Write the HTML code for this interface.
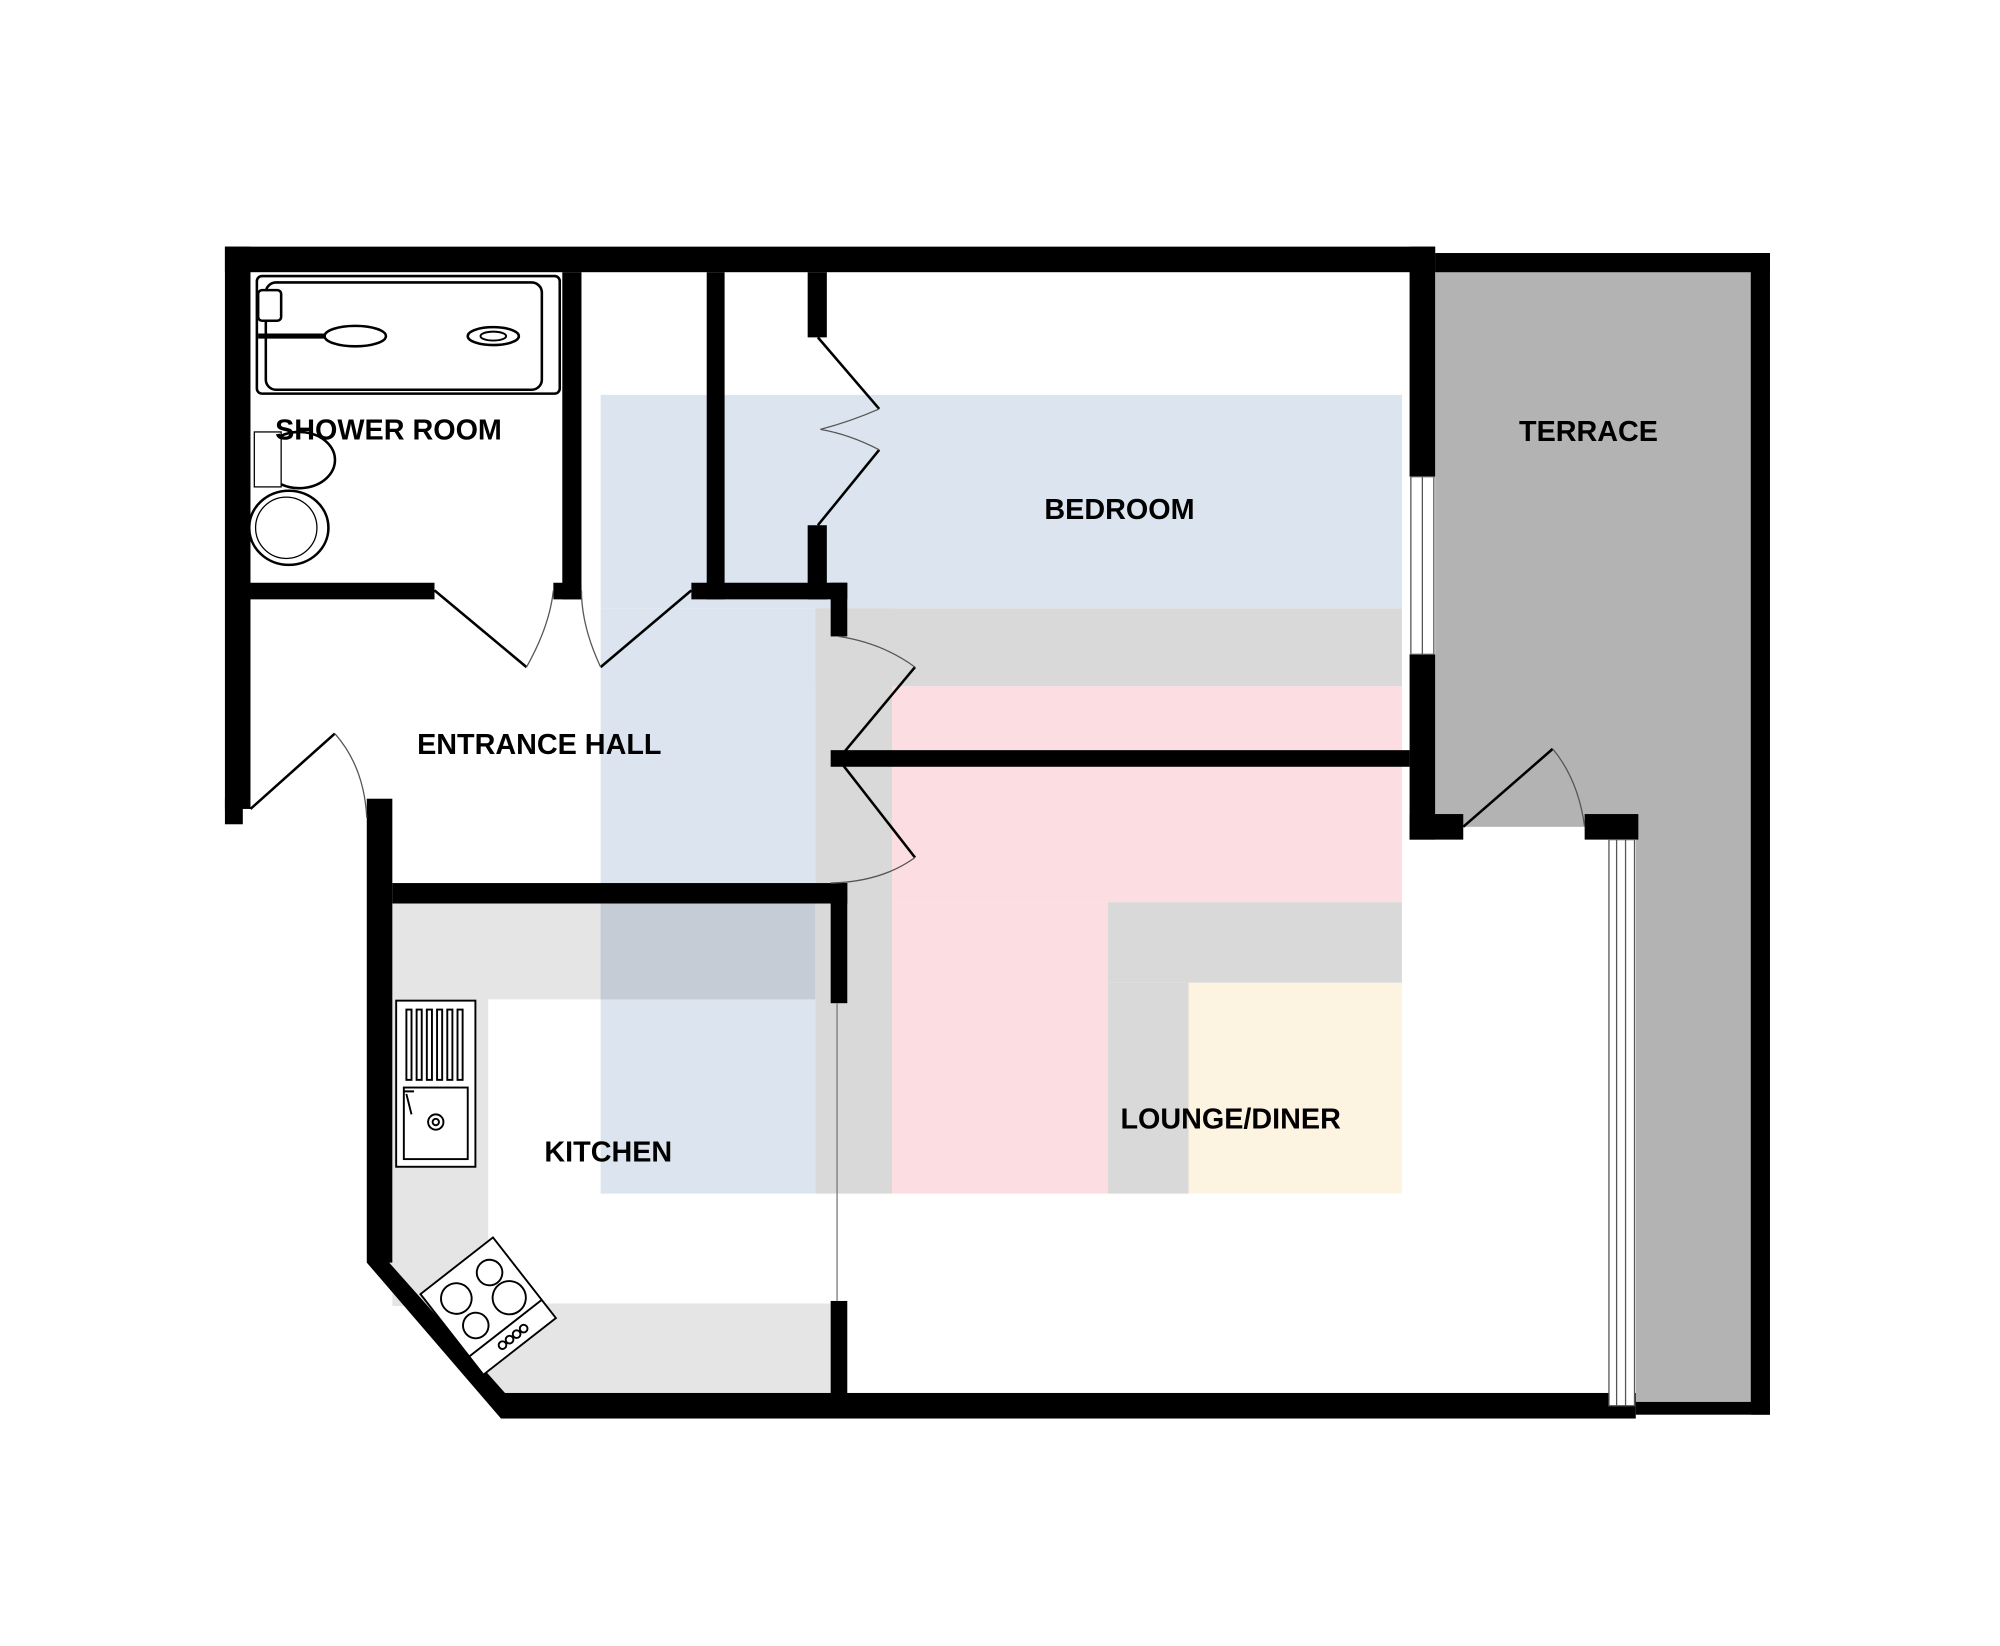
<!DOCTYPE html>
<html><head><meta charset="utf-8"><style>
html,body{margin:0;padding:0;background:#fff;width:2000px;height:1646px;overflow:hidden}
svg{display:block}
text{font-family:"Liberation Sans",Arial,sans-serif;font-weight:bold;font-size:22.5px;fill:#000;text-anchor:middle;dominant-baseline:middle}
</style></head><body>
<svg width="2000" height="1646" viewBox="0 0 1565 1288" xmlns="http://www.w3.org/2000/svg">
<!-- fills -->
<rect x="1123" y="210" width="250" height="437" fill="#b3b3b3"/>
<rect x="1280" y="640" width="93" height="460" fill="#b3b3b3"/>
<rect x="307" y="707" width="343" height="75" fill="#e5e5e5"/>
<rect x="307" y="707" width="75" height="315" fill="#e5e5e5"/>
<rect x="382" y="1020" width="268" height="72" fill="#e5e5e5"/>
<polygon points="307,985 382,985 382,1030 420,1092 395,1092 300,990" fill="#e5e5e5"/>
<rect x="470" y="309" width="627" height="167" fill="#dce5ef"/>
<rect x="470" y="476" width="168" height="458" fill="#dce5ef"/>
<rect x="470" y="707" width="168" height="75" fill="#c5ccd6"/>
<rect x="638" y="476" width="459" height="61" fill="#d9d9d9"/>
<rect x="638" y="476" width="60" height="458" fill="#d9d9d9"/>
<rect x="698" y="537" width="399" height="169" fill="#fcdde2"/>
<rect x="698" y="706" width="169" height="228" fill="#fcdde2"/>
<rect x="867" y="706" width="230" height="63" fill="#d9d9d9"/>
<rect x="867" y="769" width="63" height="165" fill="#d9d9d9"/>
<rect x="930" y="769" width="167" height="165" fill="#fdf3e1"/>
<!-- walls -->
<g fill="#000">
<rect x="176" y="193" width="947" height="20"/>
<rect x="176" y="193" width="20" height="440"/>
<rect x="176" y="625" width="14" height="20"/>
<rect x="196" y="456" width="144" height="13"/>
<rect x="440" y="213" width="15" height="256"/>
<rect x="433" y="456" width="22" height="13"/>
<rect x="553" y="213" width="14" height="256"/>
<rect x="541" y="456" width="122" height="13"/>
<rect x="632" y="213" width="15" height="51"/>
<rect x="632" y="411" width="15" height="58"/>
<rect x="650" y="456" width="13" height="42"/>
<rect x="650" y="587" width="453" height="13"/>
<rect x="1103" y="193" width="20" height="180"/>
<rect x="1103" y="512" width="20" height="145"/>
<rect x="1103" y="637" width="42" height="20"/>
<rect x="1123" y="198" width="262" height="15"/>
<rect x="1370" y="198" width="15" height="909"/>
<rect x="1240" y="637" width="42" height="20"/>
<rect x="1280" y="1097" width="105" height="10"/>
<rect x="392" y="1090" width="888" height="20"/>
<rect x="287" y="625" width="20" height="363"/>
<rect x="307" y="691" width="356" height="16"/>
<rect x="650" y="691" width="13" height="94"/>
<rect x="650" y="1018" width="13" height="75"/>
<polygon points="287,988 301,984 404,1100 392,1110"/>
</g>
<!-- windows -->
<g fill="#fff" stroke="#555" stroke-width="1">
<rect x="1104" y="373" width="18" height="139"/>
<line x1="1113" y1="373" x2="1113" y2="512"/>
<rect x="1259" y="657" width="20" height="443"/>
<line x1="1265" y1="657" x2="1265" y2="1100"/><line x1="1272" y1="657" x2="1272" y2="1100"/>
</g>
<line x1="655" y1="785" x2="655" y2="1018" stroke="#777" stroke-width="1"/>
<!-- doors -->
<g fill="none" stroke="#000" stroke-width="2">
<line x1="196" y1="633" x2="262" y2="574"/>
<line x1="340" y1="462" x2="412" y2="522"/>
<line x1="541" y1="462" x2="470" y2="522"/>
<line x1="640" y1="264" x2="688" y2="320"/>
<line x1="640" y1="411" x2="688" y2="352"/>
<line x1="716" y1="522" x2="656" y2="594"/>
<line x1="656" y1="594" x2="716" y2="671"/>
<line x1="1145" y1="647" x2="1215" y2="586"/>
</g>
<g fill="none" stroke="#555" stroke-width="1">
<path d="M262,574 Q285,600 287,640"/>
<path d="M412,522 Q430,490 433,462"/>
<path d="M470,522 Q455,490 455,462"/>
<path d="M688,320 Q665,330 642,336 Q665,340 688,352"/>
<path d="M656,498 Q690,503 716,522"/>
<path d="M716,671 Q690,690 650,691"/>
<path d="M1215,586 Q1235,610 1240,647"/>
</g>
<!-- shower room fixtures -->
<g fill="#fff" stroke="#000" stroke-width="2">
<rect x="201" y="216" width="237" height="92" rx="4"/>
<rect x="208" y="221" width="216" height="84" rx="8"/>
<rect x="202" y="227" width="18" height="24" rx="3"/>
<ellipse cx="278" cy="263" rx="24" ry="8"/>
<ellipse cx="386" cy="263" rx="20" ry="7"/>
<ellipse cx="386" cy="263" rx="10" ry="3.5" stroke-width="1.5"/>
<path d="M220,341 A28,22 0 1 1 220,379" />
<rect x="199" y="338" width="21" height="43" stroke-width="1"/>
<ellipse cx="226" cy="413" rx="31" ry="29"/>
<ellipse cx="224" cy="413" rx="24" ry="24" stroke-width="1"/>
</g>
<line x1="202" y1="263" x2="254" y2="263" stroke="#000" stroke-width="4"/>
<!-- sink -->
<g fill="#fff" stroke="#000" stroke-width="1.5">
<rect x="310" y="783" width="62" height="130"/>
<rect x="316" y="851" width="50" height="56"/>
<circle cx="341" cy="878" r="6"/><circle cx="341" cy="878" r="2.5"/>
<rect x="318" y="790" width="4" height="55"/><rect x="326" y="790" width="4" height="55"/><rect x="334" y="790" width="4" height="55"/><rect x="342" y="790" width="4" height="55"/><rect x="350" y="790" width="4" height="55"/><rect x="358" y="790" width="4" height="55"/>
<path d="M318,856 L322,872 M316,854 h8"/>
</g>
<!-- hob -->
<g transform="translate(382,1022) rotate(-38)" fill="#fff" stroke="#000" stroke-width="1.5">
<rect x="-36" y="-40" width="72" height="80"/>
<line x1="-36" y1="22" x2="36" y2="22"/>
<circle cx="-16" cy="-20" r="12"/><circle cx="17" cy="-20" r="10"/>
<circle cx="-17" cy="6" r="10"/><circle cx="17" cy="5" r="13"/>
<circle cx="-10" cy="31" r="3"/><circle cx="-3" cy="31" r="3"/><circle cx="4" cy="31" r="3"/><circle cx="11" cy="31" r="3"/>
</g>
<!-- labels -->
<text x="304" y="338">SHOWER ROOM</text>
<text x="876" y="400">BEDROOM</text>
<text x="422" y="584">ENTRANCE HALL</text>
<text x="1243" y="339">TERRACE</text>
<text x="476" y="903">KITCHEN</text>
<text x="963" y="877">LOUNGE/DINER</text>
</svg>
</body></html>
